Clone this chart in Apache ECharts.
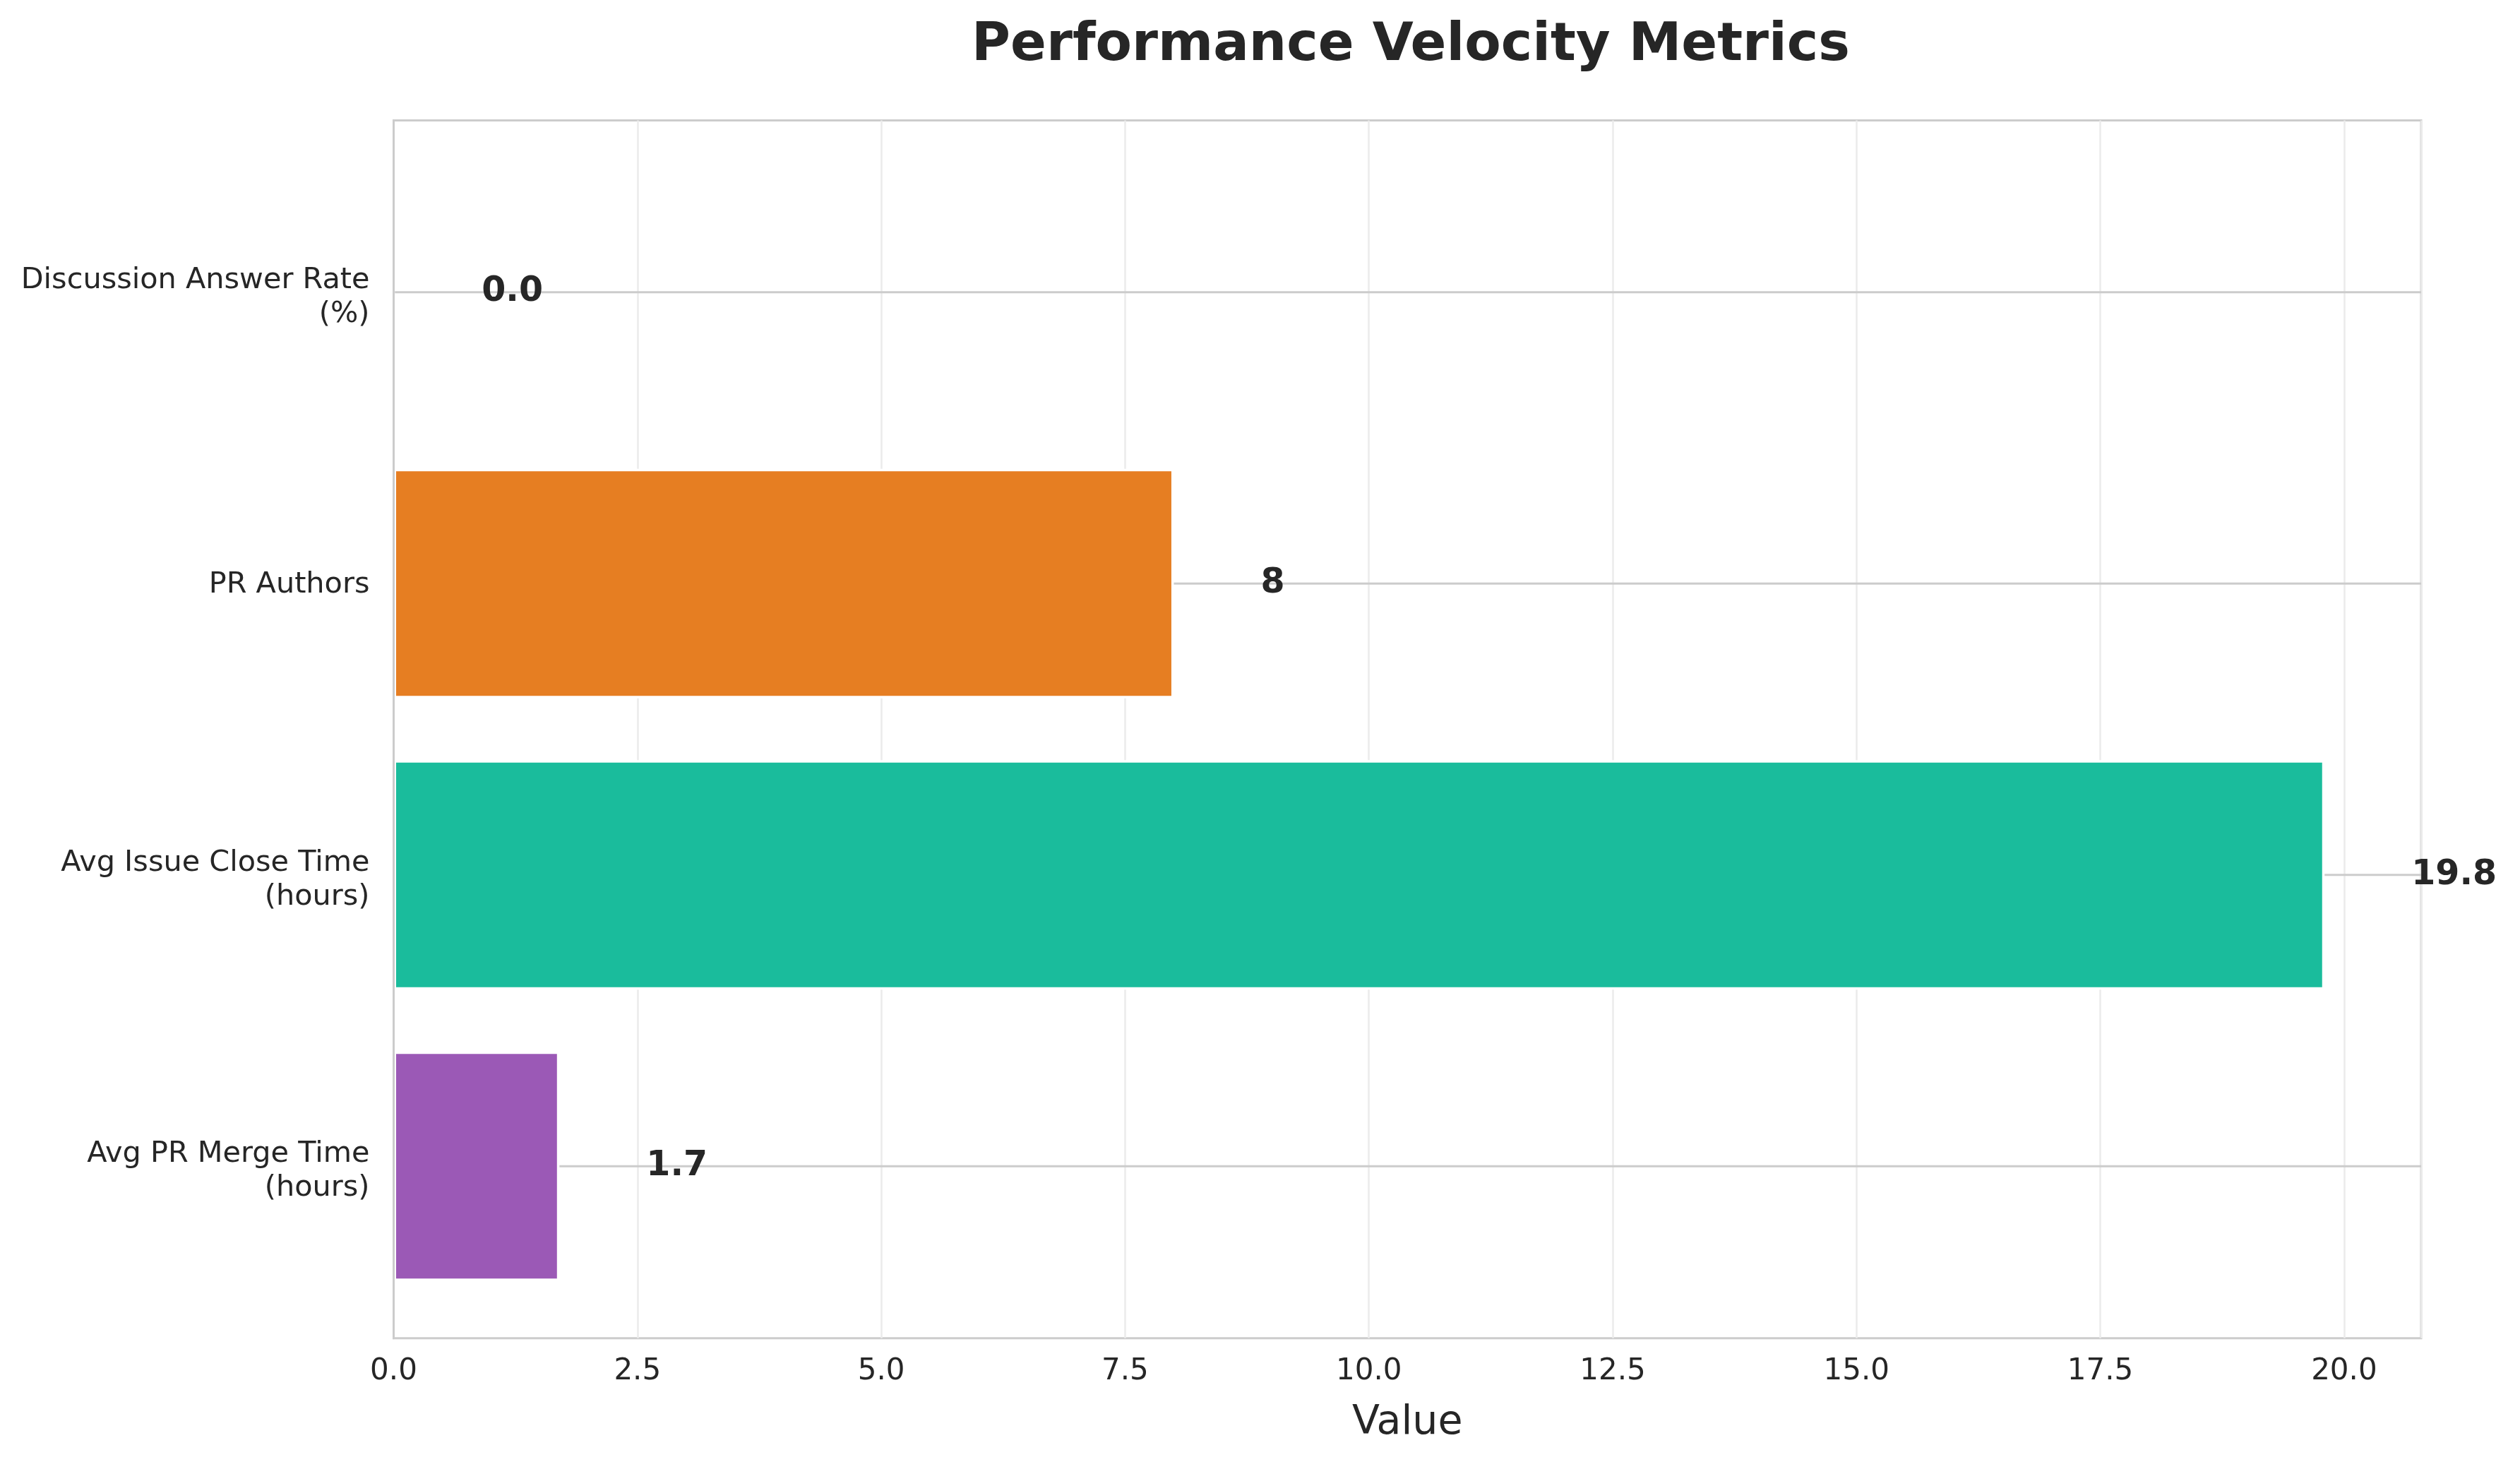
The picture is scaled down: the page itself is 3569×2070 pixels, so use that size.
<!DOCTYPE html>
<html>
<head>
<meta charset="utf-8">
<script src="https://cdn.jsdelivr.net/npm/echarts@6/dist/echarts.min.js"></script>
<style>
  html, body { margin: 0; padding: 0; background: #ffffff; }
  #chart { width: 3569px; height: 2070px; }
</style>
</head>
<body>
<div id="chart"></div>
<script>
// ---- data (bottom to top, as in the reference) ----
const categories = [
  'Avg PR Merge Time\n(hours)',
  'Avg Issue Close Time\n(hours)',
  'PR Authors',
  'Discussion Answer Rate\n(%)'
];
const values = [1.7, 19.8, 8, 0.0];
const decimals = [1, 1, 0, 1];
const barColors = ['#9b59b6', '#1abc9c', '#e67e22', '#3498db'];
const xTicks = [0, 2.5, 5, 7.5, 10, 12.5, 15, 17.5, 20];
const titleText = 'Performance Velocity Metrics';
const xAxisName = 'Value';

const X_MAX = Math.max(...values) * 1.05;
const FONT = 'DejaVu Sans';
const TEXT = '#262626';

const chart = echarts.init(document.getElementById('chart'), null, { renderer: 'canvas' });

const gridLeft = 557.5, gridRight = 140;
const labelFont = { fontFamily: FONT, fontSize: 41.4, color: TEXT, align: 'right' };

const option = {
  backgroundColor: '#ffffff',
  animation: false,
  title: {
    text: titleText,
    left: 1993,
    textAlign: 'center',
    top: 23,
    textStyle: { fontFamily: FONT, fontSize: 75, fontWeight: 'bold', color: '#262626' }
  },
  grid: [
    { // frame grid
      left: gridLeft, right: gridRight, top: 170.5, bottom: 175.3,
      show: true, borderColor: '#cccccc', borderWidth: 3, backgroundColor: 'transparent'
    },
    { // bar grid (category bands)
      left: gridLeft, right: gridRight, top: 207.5, bottom: 212.4,
      show: false
    }
  ],
  xAxis: [
    {
      gridIndex: 0, type: 'value', min: 0, max: X_MAX, interval: 2.5,
      axisLine: { show: false }, axisTick: { show: false },
      axisLabel: {
        fontFamily: FONT, fontSize: 42, color: TEXT, margin: 26,
        showMaxLabel: false,
        formatter: v => xTicks.includes(v) ? v.toFixed(1) : ''
      },
      splitLine: { show: true, lineStyle: { color: '#ebebeb', width: 2.5 } },
      name: xAxisName, nameLocation: 'middle', nameGap: 92,
      nameTextStyle: { fontFamily: FONT, fontSize: 57, color: TEXT }
    },
    {
      gridIndex: 1, type: 'value', min: 0, max: X_MAX, show: false,
      splitLine: { show: false }
    }
  ],
  yAxis: [
    { // left spine drawn above the bars
      gridIndex: 0, type: 'value', min: 0, max: 1, z: 10,
      axisLine: { show: true, onZero: false, lineStyle: { color: '#cccccc', width: 3 } },
      axisTick: { show: false }, axisLabel: { show: false },
      splitLine: { show: false }
    },
    {
      gridIndex: 1, type: 'category',
      data: categories,
      axisLine: { show: false }, axisTick: { show: false },
      splitLine: { show: false },
      axisLabel: {
        fontFamily: FONT, fontSize: 41.4, color: TEXT, margin: 34,
        lineHeight: 47, align: 'right',
        formatter: v => {
          const parts = v.split('\n');
          if (parts.length === 2) return '{a|' + parts[0] + '}\n{b|' + parts[1] + '}';
          return '{s|' + v + '}';
        },
        rich: {
          a: Object.assign({ lineHeight: 62 }, labelFont),
          b: Object.assign({ lineHeight: 34 }, labelFont),
          s: Object.assign({ lineHeight: 47, padding: [4, 0, 0, 0] }, labelFont)
        }
      }
    }
  ],
  series: [
    {
      type: 'custom',
      xAxisIndex: 1, yAxisIndex: 1,
      z: 1,
      silent: true,
      data: categories.map((c, i) => [0, i]),
      encode: { x: 0, y: 1 },
      renderItem: (params, api) => {
        const y = api.value(1);
        const p0 = api.coord([0, y]);
        const p1 = api.coord([X_MAX, y]);
        return {
          type: 'line',
          shape: { x1: p0[0], y1: p0[1], x2: p1[0], y2: p1[1] },
          style: { stroke: '#cccccc', lineWidth: 3 }
        };
      }
    },
    {
      type: 'bar',
      xAxisIndex: 1, yAxisIndex: 1,
      z: 3,
      barWidth: '78.8%',
      data: values.map((v, i) => ({
        value: v,
        itemStyle: {
          color: barColors[i],
          borderColor: '#ffffff',
          borderWidth: 3.5
        }
      })),
      label: {
        show: true,
        position: 'right',
        distance: 123,
        fontFamily: FONT, fontSize: 49, fontWeight: 'bold', color: TEXT,
        formatter: p => values[p.dataIndex].toFixed(decimals[p.dataIndex])
      }
    }
  ]
};

chart.setOption(option);
</script>
</body>
</html>
